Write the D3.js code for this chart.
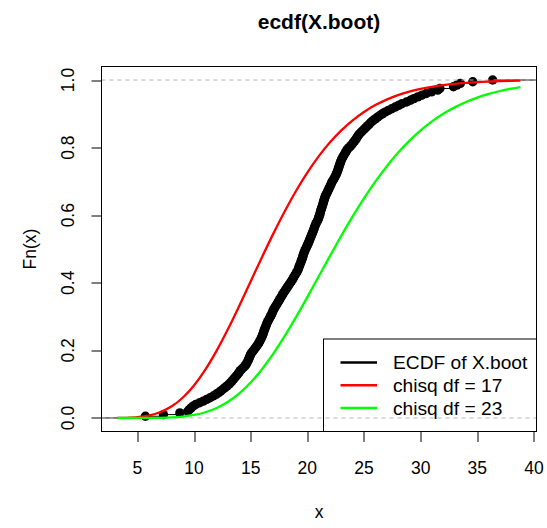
<!DOCTYPE html>
<html>
<head>
<meta charset="utf-8">
<script src="https://cdn.jsdelivr.net/npm/d3@7"></script>
<style>
body { margin: 0; background: #fff; }
text { font-family: "Liberation Sans", Arial, Helvetica, sans-serif; fill: #000; }
</style>
</head>
<body>
<script>
// bootstrap sample (sorted)
var xBoot = [5.71, 7.30, 8.75, 9.45, 9.6, 9.75, 9.92, 10.15, 10.5, 10.82,
  11.12, 11.42, 11.7, 11.95, 12.18, 12.37, 12.55, 12.74, 12.92, 13.1,
  13.24, 13.36, 13.5, 13.62, 13.75, 13.87, 13.98, 14.08, 14.22, 14.38,
  14.52, 14.62, 14.7, 14.77, 14.84, 14.9, 14.96, 15.02, 15.13, 15.25,
  15.36, 15.47, 15.58, 15.68, 15.77, 15.84, 15.92, 15.99, 16.05, 16.1,
  16.15, 16.2, 16.26, 16.32, 16.38, 16.43, 16.5, 16.58, 16.66, 16.74,
  16.82, 16.89, 16.95, 17.01, 17.1, 17.19, 17.28, 17.37, 17.46, 17.55,
  17.63, 17.72, 17.81, 17.9, 18.0, 18.1, 18.2, 18.3, 18.4, 18.5,
  18.6, 18.7, 18.78, 18.86, 18.95, 19.04, 19.13, 19.2, 19.25, 19.3,
  19.36, 19.42, 19.47, 19.53, 19.58, 19.62, 19.66, 19.72, 19.78, 19.85,
  19.92, 19.99, 20.06, 20.12, 20.18, 20.24, 20.3, 20.36, 20.42, 20.48,
  20.54, 20.59, 20.64, 20.7, 20.76, 20.84, 20.92, 20.98, 21.03, 21.08,
  21.12, 21.16, 21.2, 21.25, 21.3, 21.35, 21.39, 21.43, 21.48, 21.53,
  21.57, 21.64, 21.72, 21.79, 21.86, 21.93, 22.0, 22.07, 22.13, 22.2,
  22.3, 22.38, 22.46, 22.54, 22.6, 22.66, 22.71, 22.76, 22.81, 22.86,
  22.91, 22.96, 23.02, 23.1, 23.18, 23.27, 23.36, 23.45, 23.52, 23.68,
  23.82, 23.95, 24.06, 24.18, 24.29, 24.38, 24.47, 24.58, 24.73, 24.88,
  25.03, 25.18, 25.33, 25.48, 25.62, 25.8, 26.0, 26.2, 26.4, 26.62,
  26.85, 27.15, 27.45, 27.75, 28.05, 28.35, 28.75, 29.1, 29.4, 29.75,
  30.1, 30.5, 30.95, 31.5, 31.7, 32.9, 33.2, 33.5, 34.6, 36.35];

// reference chi-square cdf curves
var curveX = [3.26, 4, 5, 6, 7, 8, 9, 10, 11, 12, 13, 14, 15, 16, 17, 18, 19, 20,
  21, 22, 23, 24, 25, 26, 27, 28, 29, 30, 31, 32, 33, 34, 35, 36, 37, 38, 38.8];
var chisq17 = [0.0002, 0.0006, 0.0024, 0.0071, 0.0168, 0.0337, 0.0598, 0.0962, 0.143, 0.1992,
  0.263, 0.3322, 0.404, 0.4758, 0.5455, 0.6112, 0.6717, 0.7261, 0.7742, 0.8157,
  0.8511, 0.8809, 0.9056, 0.9258, 0.9421, 0.9552, 0.9655, 0.9737, 0.98, 0.9849,
  0.9887, 0.9915, 0.9937, 0.9953, 0.9966, 0.9975, 0.998];
var chisq23 = [0, 0, 0.00004, 0.00018, 0.0006, 0.0018, 0.0042, 0.0089, 0.017, 0.0297,
  0.0481, 0.0731, 0.1051, 0.1444, 0.1903, 0.242, 0.2983, 0.3576, 0.4186, 0.4795,
  0.5392, 0.5963, 0.6499, 0.6994, 0.7443, 0.7846, 0.82, 0.851, 0.8775, 0.9001,
  0.9191, 0.935, 0.9481, 0.9588, 0.9675, 0.9745, 0.9791];

var xTicks = [5, 10, 15, 20, 25, 30, 35, 40];
var yTicks = [0, 0.2, 0.4, 0.6, 0.8, 1.0];
var legendLabels = ["ECDF of X.boot", "chisq df = 17", "chisq df = 23"];
var legendColors = ["#000000", "#ff0000", "#00ff00"];

var W = 547, H = 528;
var margin = {top: 66.5, right: 10.5, bottom: 96.5, left: 101.5};
var width = W - margin.left - margin.right,
    height = H - margin.top - margin.bottom;

// xlim like plot.stepfun, then R's 4% axis padding
var n = xBoot.length;
var rx = d3.extent(xBoot);
var dr = 0.08 * (rx[1] - rx[0]);
var xlim = [rx[0] - dr, rx[1] + dr];
var pad = 0.04 * (xlim[1] - xlim[0]);

var x = d3.scaleLinear().domain([xlim[0] - pad, xlim[1] + pad]).range([0, width]);
var y = d3.scaleLinear().domain([-0.04, 1.04]).range([height, 0]);

var svg = d3.select("body").append("svg")
    .attr("width", W)
    .attr("height", H);

svg.append("defs").append("clipPath").attr("id", "clip")
  .append("rect").attr("width", width).attr("height", height);

var g = svg.append("g")
    .attr("transform", "translate(" + margin.left + "," + margin.top + ")");

var plot = g.append("g").attr("clip-path", "url(#clip)");

// horizontal steps of the ecdf
var ti = [xlim[0] - dr].concat(xBoot, [xlim[1] + dr]);
var steps = d3.range(ti.length - 1).map(function(i) {
  return {x0: ti[i], x1: ti[i + 1], f: i / n};
});
plot.selectAll("line.step")
    .data(steps)
  .enter().append("line")
    .attr("class", "step")
    .attr("x1", function(d) { return x(d.x0); })
    .attr("x2", function(d) { return x(d.x1); })
    .attr("y1", function(d) { return y(d.f); })
    .attr("y2", function(d) { return y(d.f); })
    .style("stroke", "#000")
    .style("stroke-width", 1);

// ecdf points
plot.selectAll("circle")
    .data(xBoot)
  .enter().append("circle")
    .attr("cx", function(d) { return x(d); })
    .attr("cy", function(d, i) { return y((i + 1) / n); })
    .attr("r", 4.7)
    .style("fill", "#000");

// 0 / 1 reference lines
plot.selectAll("line.ref")
    .data([0, 1])
  .enter().append("line")
    .attr("class", "ref")
    .attr("x1", 0).attr("x2", width)
    .attr("y1", function(d) { return y(d); })
    .attr("y2", function(d) { return y(d); })
    .style("stroke", "#b3b3b3")
    .style("stroke-dasharray", "4,4");

// chi-square curves
var cdfLine = function(vals) {
  return d3.line()
    .x(function(d, i) { return x(curveX[i]); })
    .y(function(d) { return y(d); })
    .curve(d3.curveMonotoneX)(vals);
};
plot.append("path")
    .attr("d", cdfLine(chisq17))
    .style("fill", "none")
    .style("stroke", legendColors[1])
    .style("stroke-width", 2.3);
plot.append("path")
    .attr("d", cdfLine(chisq23))
    .style("fill", "none")
    .style("stroke", legendColors[2])
    .style("stroke-width", 2.3);

// box
g.append("rect")
    .attr("width", width)
    .attr("height", height)
    .style("fill", "none")
    .style("stroke", "#000");

// x axis
var xAxis = g.append("g").attr("transform", "translate(0," + height + ")");
xAxis.selectAll("line")
    .data(xTicks)
  .enter().append("line")
    .attr("x1", function(d) { return Math.round(x(d)) + 0.5; })
    .attr("x2", function(d) { return Math.round(x(d)) + 0.5; })
    .attr("y1", 0).attr("y2", 10.5)
    .style("stroke", "#000");
xAxis.selectAll("text")
    .data(xTicks)
  .enter().append("text")
    .attr("x", function(d) { return x(d); })
    .attr("y", 42)
    .attr("text-anchor", "middle")
    .style("font-size", "17.5px")
    .text(function(d) { return d; });

// y axis
var yAxis = g.append("g");
yAxis.selectAll("line")
    .data(yTicks)
  .enter().append("line")
    .attr("x1", -10).attr("x2", 0)
    .attr("y1", function(d) { return Math.round(y(d)) + 0.5; })
    .attr("y2", function(d) { return Math.round(y(d)) + 0.5; })
    .style("stroke", "#000");
yAxis.selectAll("text")
    .data(yTicks)
  .enter().append("text")
    .attr("transform", function(d) { return "translate(-28," + y(d) + ") rotate(-90)"; })
    .attr("text-anchor", "middle")
    .style("font-size", "17.5px")
    .text(function(d) { return d.toFixed(1); });

// titles
svg.append("text")
    .attr("x", margin.left + width / 2)
    .attr("y", 29)
    .attr("text-anchor", "middle")
    .style("font-size", "21px")
    .style("font-weight", "bold")
    .text("ecdf(X.boot)");
svg.append("text")
    .attr("x", margin.left + width / 2)
    .attr("y", 518)
    .attr("text-anchor", "middle")
    .style("font-size", "17.5px")
    .text("x");
svg.append("text")
    .attr("transform", "translate(36," + (margin.top + height / 2) + ") rotate(-90)")
    .attr("text-anchor", "middle")
    .style("font-size", "17.5px")
    .text("Fn(x)");

// legend, bottom right of the plot region
var lgW = 213, lgH = 92.5;
var lg = g.append("g")
    .attr("transform", "translate(" + (width - lgW) + "," + (height - lgH) + ")");
lg.append("rect")
    .attr("width", lgW)
    .attr("height", lgH)
    .style("fill", "none")
    .style("stroke", "#000");
var rows = lg.selectAll("g.row")
    .data(legendLabels)
  .enter().append("g")
    .attr("class", "row")
    .attr("transform", function(d, i) { return "translate(0," + (23.5 + i * 22.7) + ")"; });
rows.append("line")
    .attr("x1", 17).attr("x2", 53.5)
    .style("stroke", function(d, i) { return legendColors[i]; })
    .style("stroke-width", 2.5);
rows.append("text")
    .attr("x", 69.5)
    .attr("y", 6.8)
    .style("font-size", "19.2px")
    .text(function(d) { return d; });
</script>
</body>
</html>
